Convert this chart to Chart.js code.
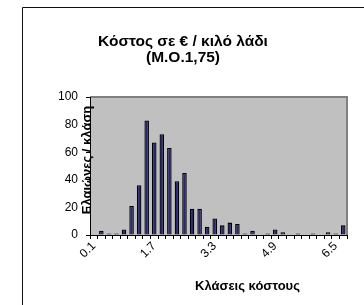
<!DOCTYPE html>
<html lang="el">
<head>
<meta charset="UTF-8">
<title>Κόστος σε € / κιλό λάδι</title>
<script src="https://cdn.jsdelivr.net/npm/chart.js@4.4.0/dist/chart.umd.min.js"></script>
<style>
    body { margin: 0; background: #ffffff; }
    canvas { display: block; }
</style>
</head>
<body>
<canvas id="chart_canvas" width="364" height="305"></canvas>
<script>
    // cost classes (euro per kilo of oil), one bar per class
    var categories = [
        '0.1', '0.3', '0.5', '0.7', '0.9', '1.1', '1.3', '1.5', '1.7', '1.9',
        '2.1', '2.3', '2.5', '2.7', '2.9', '3.1', '3.3', '3.5', '3.7', '3.9',
        '4.1', '4.3', '4.5', '4.7', '4.9', '5.1', '5.3', '5.5', '5.7', '5.9',
        '6.1', '6.3', '6.5', '6.7'
    ];

    // olive groves per class
    var olive_groves = [
        0, 3, 1, 1, 4, 21, 36, 83, 67, 73,
        63, 39, 45, 19, 19, 6, 12, 7, 9, 8,
        1, 3, 0, 1, 4, 2, 0, 1, 0, 1,
        0, 2, 1, 7
    ];

    var shown_ticks = ['0.1', '1.7', '3.3', '4.9', '6.5'];
    var y_ticks = [0, 20, 40, 60, 80, 100];

    var title_lines = ['Κόστος σε € / κιλό λάδι', '(Μ.Ο.1,75)'];
    var y_title = 'Ελαιώνες / κλάση';
    var x_title = 'Κλάσεις κόστους';

    var FONT = "'Liberation Sans', Arial, sans-serif";
    Chart.defaults.font.family = FONT;
    Chart.defaults.color = '#000000';

    // grey plot area, outer frame, chart title and the two axis titles
    var frame_plugin = {
        id: 'frame',
        beforeDraw: function(chart) {
            var ctx = chart.ctx;
            var a = chart.chartArea;
            ctx.save();
            ctx.fillStyle = '#c0c0c0';
            ctx.fillRect(a.left, a.top, a.right - a.left, a.bottom - a.top);
            ctx.strokeStyle = '#808080';
            ctx.lineWidth = 2;
            ctx.beginPath();
            ctx.moveTo(a.left, a.top);
            ctx.lineTo(a.right, a.top);
            ctx.lineTo(a.right, a.bottom);
            ctx.stroke();

            ctx.strokeStyle = '#111111';
            ctx.lineWidth = 1;
            ctx.beginPath();
            ctx.moveTo(22.5, chart.height);
            ctx.lineTo(22.5, 7.5);
            ctx.lineTo(chart.width, 7.5);
            ctx.stroke();

            ctx.fillStyle = '#000000';
            ctx.font = 'bold 15.5px ' + FONT;
            ctx.textAlign = 'center';
            ctx.textBaseline = 'alphabetic';
            ctx.fillText(title_lines[0], 183, 46);
            ctx.fillText(title_lines[1], 183, 62);
            ctx.restore();
        },
        afterDraw: function(chart) {
            var ctx = chart.ctx;
            var a = chart.chartArea;
            ctx.save();
            ctx.fillStyle = '#000000';
            ctx.font = 'bold 13px ' + FONT;
            ctx.textAlign = 'center';
            ctx.textBaseline = 'middle';

            ctx.translate(a.left - 3, (a.top + a.bottom) / 2 - 6);
            ctx.rotate(-Math.PI / 2);
            ctx.fillText(y_title, 0, 0);
            ctx.restore();

            ctx.save();
            ctx.fillStyle = '#000000';
            ctx.font = 'bold 13px ' + FONT;
            ctx.textAlign = 'center';
            ctx.textBaseline = 'middle';
            ctx.fillText(x_title, (a.left + a.right) / 2 + 29, a.bottom + 51);
            ctx.restore();
        }
    };

    window._chart = new Chart(
        document.getElementById('chart_canvas'), {
            type: 'bar',
            plugins: [frame_plugin],

            data: {
                labels: categories,
                datasets: [
                    {
                        label: y_title,
                        data: olive_groves,
                        backgroundColor: '#262673',
                        borderColor: '#000000',
                        borderWidth: 1.3,
                        barPercentage: 0.6,
                        categoryPercentage: 1.0
                    }
                ]
            },

            options: {
                responsive: false,
                animation: false,
                devicePixelRatio: 1,
                layout: {
                    padding: { top: 97, right: 17, bottom: 0, left: 0 }
                },
                plugins: {
                    legend: { display: false },
                    tooltip: { enabled: false },
                    title: { display: false }
                },
                scales: {
                    x: {
                        grid: {
                            display: true,
                            drawOnChartArea: false,
                            drawTicks: true,
                            tickLength: 4,
                            color: '#000000',
                            offset: true
                        },
                        border: { color: '#000000', width: 1 },
                        ticks: {
                            autoSkip: false,
                            minRotation: 45,
                            maxRotation: 45,
                            padding: 0,
                            font: { size: 12 },
                            callback: function(value, index) {
                                var lab = categories[index];
                                return shown_ticks.indexOf(lab) >= 0 ? lab : '';
                            }
                        },
                        afterFit: function(scale) { scale.height = 70; }
                    },
                    y: {
                        min: 0,
                        max: 100,
                        grid: {
                            display: true,
                            drawOnChartArea: false,
                            drawTicks: true,
                            tickLength: 4,
                            color: '#000000'
                        },
                        border: { color: '#000000', width: 1 },
                        afterBuildTicks: function(scale) {
                            scale.ticks = y_ticks.map(function(v) { return { value: v }; });
                        },
                        ticks: {
                            padding: 8,
                            font: { size: 12 }
                        },
                        afterFit: function(scale) { scale.width = 90; }
                    }
                }
            }
        }
    );
</script>
</body>
</html>
